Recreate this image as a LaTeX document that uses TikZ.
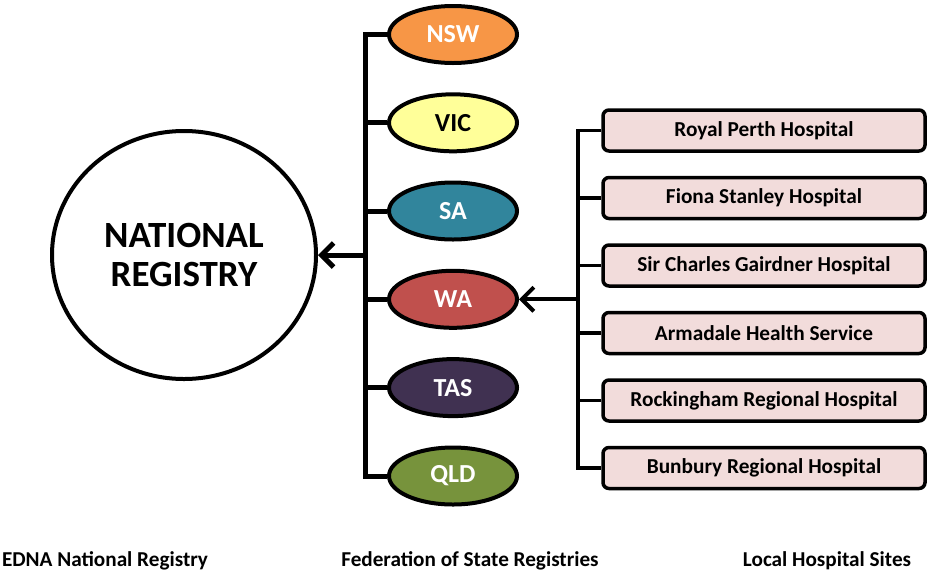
\documentclass[tikz,border=0pt]{standalone}
\usepackage{fontspec}
\setmainfont{Carlito}
\usetikzlibrary{shapes.geometric,arrows.meta}
\definecolor{cnsw}{HTML}{F79646}
\definecolor{cvic}{HTML}{FFFF99}
\definecolor{csa}{HTML}{31859C}
\definecolor{cwa}{HTML}{C0504D}
\definecolor{ctas}{HTML}{403151}
\definecolor{cqld}{HTML}{77933C}
\definecolor{cbox}{HTML}{F2DCDB}
\tikzset{
  statenode/.style={ellipse, draw=black, line width=4pt, minimum width=128pt, minimum height=57pt, inner sep=0pt, font=\bfseries\fontsize{26}{30}\selectfont, text=white},
  hospnode/.style={rectangle, rounded corners=6pt, draw=black, line width=3.5pt, fill=cbox, minimum width=322pt, minimum height=41pt, inner sep=0pt, font=\bfseries\fontsize{21.3}{25}\selectfont},
  regnode/.style={ellipse, draw=black, line width=4pt, minimum width=264pt, minimum height=248pt, inner sep=0pt, align=center, font=\bfseries\fontsize{37}{39}\selectfont},
  lefttree/.style={line width=5pt, draw=black},
  righttree/.style={line width=3.5pt, draw=black},
  barb/.style={-{Straight Barb[length=12pt,width=24pt]}},
  caption/.style={font=\bfseries\fontsize{21.2}{25}\selectfont, anchor=base}
}
\begin{document}
\begin{tikzpicture}[x=1pt,y=-1pt]
\useasboundingbox (0,0) rectangle (928,571);
\node[regnode] (reg) at (184,255) {NATIONAL\\REGISTRY};
\node[statenode, fill=cnsw] (nsw) at (453,34.5) {NSW};
\node[statenode, fill=cvic, text=black] (vic) at (453,122.8) {VIC};
\node[statenode, fill=csa] (sa) at (453,211) {SA};
\node[statenode, fill=cwa] (wa) at (453,299.3) {WA};
\node[statenode, fill=ctas] (tas) at (453,387.6) {TAS};
\node[statenode, fill=cqld] (qld) at (453,476) {QLD};
\node[hospnode] (h1) at (764,130.5) {Royal Perth Hospital};
\node[hospnode] (h2) at (764,198) {Fiona Stanley Hospital};
\node[hospnode] (h3) at (764,265.5) {Sir Charles Gairdner Hospital};
\node[hospnode] (h4) at (764,333) {Armadale Health Service};
\node[hospnode] (h5) at (764,400.5) {Rockingham Regional Hospital};
\node[hospnode] (h6) at (764,468) {Bunbury Regional Hospital};
\coordinate (lj) at (365,255);
\coordinate (rj) at (578,299.3);
\draw[lefttree] (nsw.west) -- (nsw.west -| lj) -- (qld.west -| lj) -- (qld.west);
\foreach \s in {vic,sa,wa,tas} \draw[lefttree] (\s.west) -- (\s.west -| lj);
\draw[lefttree, barb] (lj) -- (lj -| reg.east);
\draw[righttree] (h1.west) -- (h1.west -| rj) -- (h6.west -| rj) -- (h6.west);
\foreach \h in {h2,h3,h4,h5} \draw[righttree] (\h.west) -- (\h.west -| rj);
\draw[righttree, line width=4pt, barb] (rj) -- (wa.east);
\node[caption] (c1) at (105,566) {EDNA National Registry};
\node[caption] (c2) at (470,566) {Federation of State Registries};
\node[caption] (c3) at (827,566) {Local Hospital Sites};
\end{tikzpicture}
\end{document}
